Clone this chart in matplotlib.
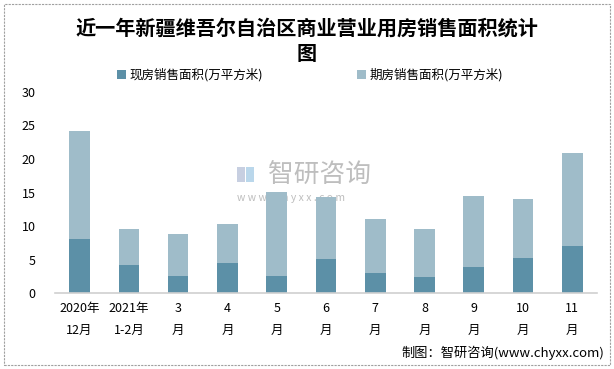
import matplotlib
matplotlib.use("Agg")
import matplotlib.pyplot as plt
from matplotlib.patches import Rectangle

plt.rcParams['font.family'] = ['Noto Sans CJK SC', 'DejaVu Sans']

categories = ["2020年\n12月", "2021年\n1-2月", "3\n月", "4\n月", "5\n月", "6\n月",
              "7\n月", "8\n月", "9\n月", "10\n月", "11\n月"]
xianfang = [8.08, 4.2, 2.57, 4.5, 2.57, 5.1, 3.02, 2.42, 3.9, 5.25, 7.04]
qifang = [16.07, 5.37, 6.25, 5.8, 12.5, 9.23, 8.03, 7.15, 10.58, 8.78, 13.84]
series_names = ["现房销售面积(万平方米)", "期房销售面积(万平方米)"]
yticks = [0, 5, 10, 15, 20, 25, 30]

c1 = "#5c90a7"
c2 = "#9fbcc9"

fig = plt.figure(figsize=(6.14, 3.69), dpi=100)
ax = fig.add_axes([0.0896, 0.205, 0.8824, 0.5465])
ax.patch.set_alpha(0)

x = list(range(len(categories)))
b1 = ax.bar(x, xianfang, width=0.42, color=c1, label=series_names[0], zorder=2)
b2 = ax.bar(x, qifang, width=0.42, bottom=xianfang, color=c2, label=series_names[1], zorder=2)

ax.set_xlim(-0.5, len(categories) - 0.5)
ax.set_ylim(0, 30)
ax.set_yticks(yticks)
ax.set_yticklabels([str(v) for v in yticks], fontsize=9)
ax.set_xticks(x)
ax.set_xticklabels(categories, fontsize=9, linespacing=1.9)
ax.tick_params(axis='both', length=0, colors='#000000')
ax.tick_params(axis='y', pad=14)
ax.tick_params(axis='x', pad=6)
for s in ['top', 'right', 'left']:
    ax.spines[s].set_visible(False)
ax.spines['bottom'].set_color('#d0d0d0')
ax.spines['bottom'].set_linewidth(1.2)

fig.text(0.5, 0.89, "近一年新疆维吾尔自治区商业营业用房销售面积统计\n图",
         ha='center', va='center', fontsize=14.5, fontweight='bold', linespacing=1.25)

leg = fig.legend(handles=[b1, b2], labels=series_names, loc='center',
                 bbox_to_anchor=(0.505, 0.797), ncol=2, frameon=False, fontsize=9,
                 handlelength=0.7, handleheight=0.7, columnspacing=7.5, handletextpad=0.3)

# watermark (behind bars)
fig.text(0.436, 0.526, "智研咨询", ha='left', va='center', fontsize=18.5,
         color='#a8a8a8', alpha=0.75, zorder=-1)
fig.patches.append(Rectangle((0.386, 0.508), 0.013, 0.04, transform=fig.transFigure,
                             facecolor='#b9c3da', edgecolor='none', alpha=0.8, zorder=-1))
fig.patches.append(Rectangle((0.401, 0.508), 0.013, 0.04, transform=fig.transFigure,
                             facecolor='#a9cde6', edgecolor='none', alpha=0.8, zorder=-1))
fig.text(0.386, 0.463, "w w w . c h y x x . c o m", ha='left', va='center', fontsize=7.5,
         color='#a8a8a8', alpha=0.75, zorder=-1)

fig.text(0.985, 0.045, "制图：智研咨询(www.chyxx.com)", ha='right', va='center', fontsize=9.5)

fig.patches.append(Rectangle((0.006, 0.01), 0.987, 0.978, transform=fig.transFigure,
                             fill=False, edgecolor='#a0a0a0', linewidth=0.8,
                             linestyle=(0, (2, 1))))

fig.savefig("out.png", dpi=100)
